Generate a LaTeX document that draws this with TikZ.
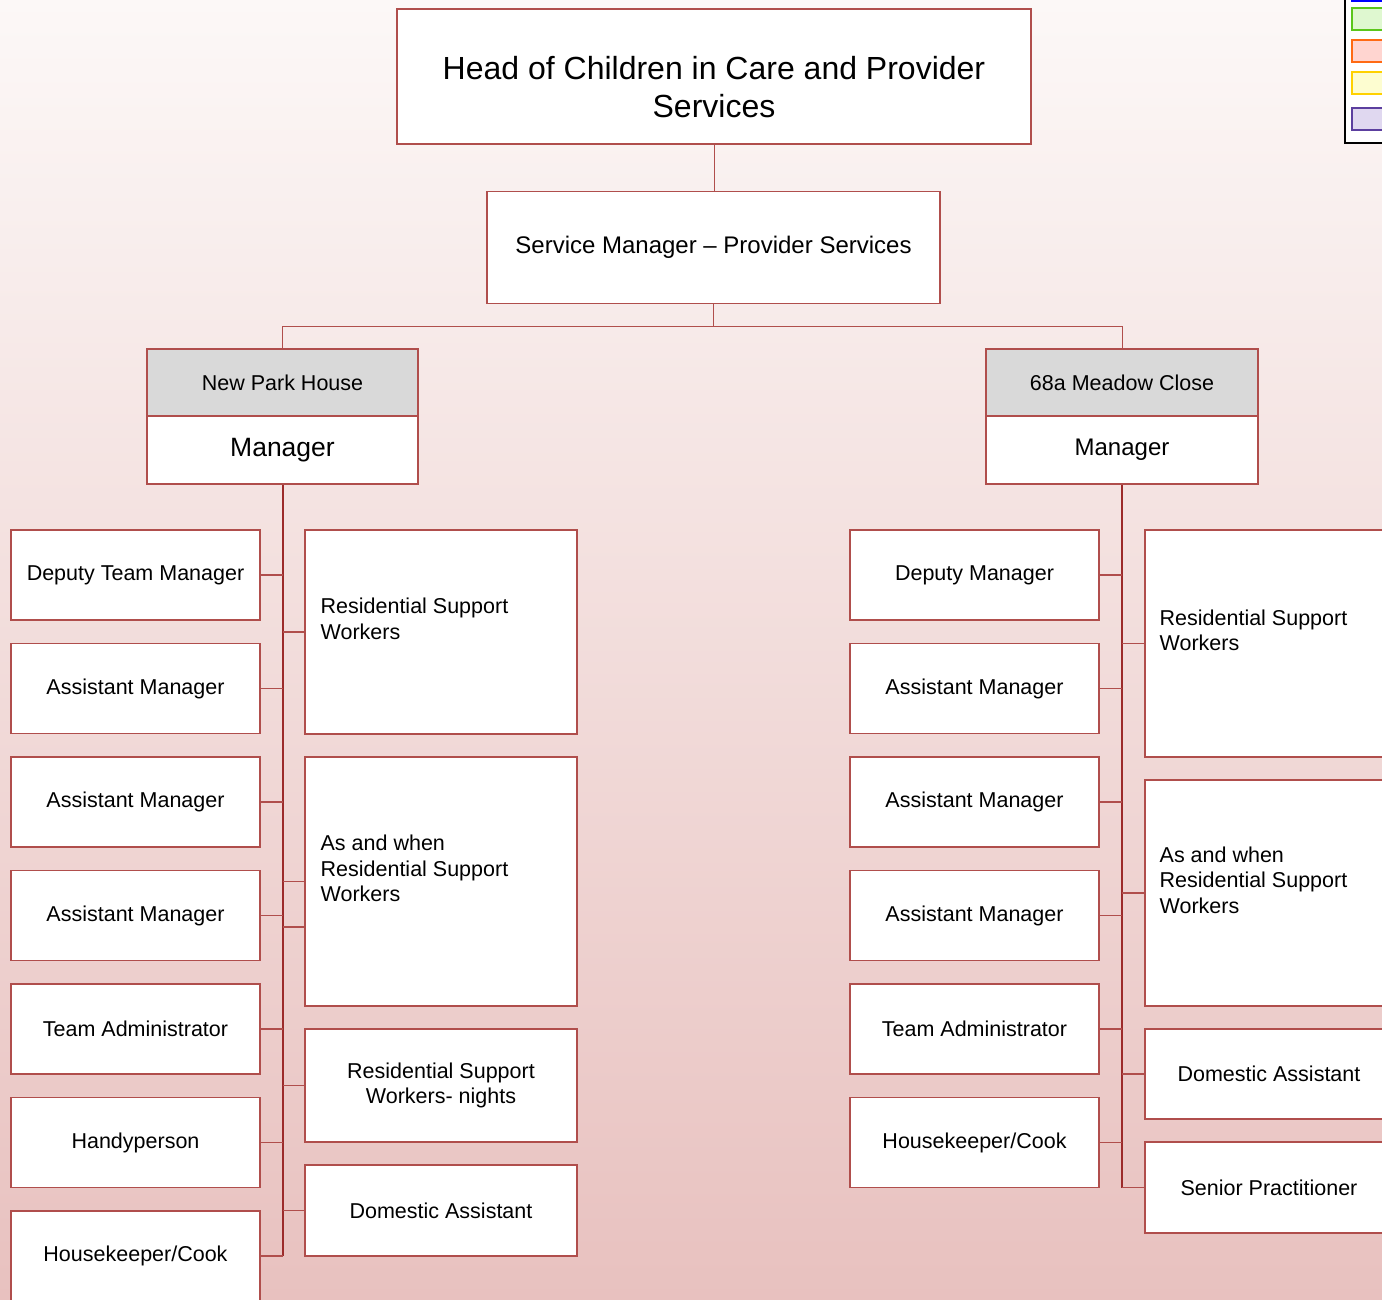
\documentclass[tikz,border=0pt]{standalone}
\usepackage{fontspec}
\setmainfont{Liberation Sans}
\definecolor{edge}{HTML}{B04E4C}
\definecolor{trunk}{HTML}{9C2B2B}
\definecolor{bgtop}{HTML}{FCF8F7}
\definecolor{bgbot}{HTML}{E8C1BF}
\definecolor{hdrgray}{HTML}{D9D9D9}
\definecolor{keygreen}{HTML}{5BC61B}
\definecolor{keygreenf}{HTML}{DFF8D0}
\definecolor{keyorange}{HTML}{FF6A13}
\definecolor{keyorangef}{HTML}{FFD5D0}
\definecolor{keyyellow}{HTML}{FFD100}
\definecolor{keyyellowf}{HTML}{FDFDD0}
\definecolor{keypurple}{HTML}{5C3F9F}
\definecolor{keypurplef}{HTML}{E0D8F0}
\tikzset{
  box/.style={draw=edge, fill=white, line width=1.1pt, inner sep=0pt, align=center,
    font=\fontsize{21.5}{25.5}\selectfont},
  lbox/.style={box, minimum width=249pt, minimum height=90pt},
  txt/.style={inner sep=0pt, align=left, font=\fontsize{21.5}{25.5}\selectfont},
  link/.style={draw=edge, line width=1.2pt},
  trunkline/.style={draw=trunk, line width=2pt},
  keybox/.style={line width=2pt},
}
\begin{document}
\begin{tikzpicture}[x=1pt,y=-1pt]
\useasboundingbox (0,0) rectangle (1382,1300);
\clip (0,0) rectangle (1382,1300);
\shade[top color=bgtop, bottom color=bgbot] (0,0) rectangle (1382,1300);
% top of the chart
\node[box, minimum width=634pt, minimum height=135pt] (head) at (714,76.5) {};
\node[txt, align=center, font=\fontsize{32}{38}\selectfont] at ([yshift=-11pt]head.center) {Head of Children in Care and Provider\\Services};
\node[box, minimum width=453pt, minimum height=112pt, font=\fontsize{24}{28}\selectfont] (svc) at (713.5,247.5) {Service Manager – Provider Services};
\coordinate (bus) at (713.5,326);
% New Park House
\node[box, fill=hdrgray, minimum width=271pt, minimum height=67pt] (npk) at (282.5,382.5) {New Park House};
\node[box, minimum width=271pt, minimum height=68pt, font=\fontsize{26.5}{30}\selectfont] (npkm) at (282.5,450) {Manager};
\node[lbox] (ldep) at (135.5,575) {Deputy Team Manager};
\node[lbox] (las1) at (135.5,688.5) {Assistant Manager};
\node[lbox] (las2) at (135.5,802) {Assistant Manager};
\node[lbox] (las3) at (135.5,915.5) {Assistant Manager};
\node[lbox] (ladm) at (135.5,1029) {Team Administrator};
\node[lbox] (lhdy) at (135.5,1142.5) {Handyperson};
\node[lbox] (lhk) at (135.5,1256) {Housekeeper/Cook};
\node[box, minimum width=272pt, minimum height=204pt] (lrsw) at (441,632) {};
\node[txt, anchor=west] at ([xshift=16pt,yshift=13pt]lrsw.west) {Residential Support\\Workers};
\node[box, minimum width=272pt, minimum height=249pt] (lasw) at (441,881.5) {};
\node[txt, anchor=west] at ([xshift=16pt,yshift=13pt]lasw.west) {As and when\\Residential Support\\Workers};
\node[box, minimum width=272pt, minimum height=113pt] (lrsn) at (441,1085.5) {Residential Support\\Workers- nights};
\node[box, minimum width=272pt, minimum height=91pt] (ldom) at (441,1210.5) {Domestic Assistant};
\coordinate (laswb) at (305,927);
% 68a Meadow Close
\node[box, fill=hdrgray, minimum width=272pt, minimum height=67pt] (mdw) at (1122,382.5) {68a Meadow Close};
\node[box, minimum width=272pt, minimum height=68pt, font=\fontsize{24}{28}\selectfont] (mdwm) at (1122,450) {Manager};
\node[lbox] (rdep) at (974.5,575) {Deputy Manager};
\node[lbox] (ras1) at (974.5,688.5) {Assistant Manager};
\node[lbox] (ras2) at (974.5,802) {Assistant Manager};
\node[lbox] (ras3) at (974.5,915.5) {Assistant Manager};
\node[lbox] (radm) at (974.5,1029) {Team Administrator};
\node[lbox] (rhk) at (974.5,1142.5) {Housekeeper/Cook};
\node[box, minimum width=248pt, minimum height=227pt] (rrsw) at (1269,643.5) {};
\node[txt, anchor=west] at ([xshift=15pt,yshift=13pt]rrsw.west) {Residential Support\\Workers};
\node[box, minimum width=248pt, minimum height=226pt] (rasw) at (1269,893) {};
\node[txt, anchor=west] at ([xshift=15pt,yshift=13pt]rasw.west) {As and when\\Residential Support\\Workers};
\node[box, minimum width=248pt, minimum height=90pt] (rdom) at (1269,1074) {Domestic Assistant};
\node[box, minimum width=248pt, minimum height=91pt] (rsen) at (1269,1187.5) {Senior Practitioner};
% connectors
\draw[link, line width=1pt] (head.south) -- (head.south |- svc.north);
\draw[link, line width=1pt] (svc.south) -- (bus);
\draw[link, line width=1pt] (npk.north) -- (npk.north |- bus) -- (mdw.north |- bus) -- (mdw.north);
\draw[trunkline] (npkm.south) -- (npkm.south |- lhk.east);
\draw[trunkline] (mdwm.south) -- (mdwm.south |- rsen.west);
\foreach \n in {ldep,las1,las2,las3,ladm,lhdy,lhk}
  \draw[link] (\n.east) -- (\n.east -| npkm.south);
\foreach \n in {lrsw,lasw,laswb,lrsn,ldom}
  \draw[link] (\n.west) -- (\n.west -| npkm.south);
\foreach \n in {rdep,ras1,ras2,ras3,radm,rhk}
  \draw[link] (\n.east) -- (\n.east -| mdwm.south);
\foreach \n in {rrsw,rasw,rdom,rsen}
  \draw[link] (\n.west) -- (\n.west -| mdwm.south);
% key, top right
\draw[black, line width=2pt, fill=white] (1345,-10) rectangle (1400,143);
\draw[blue, line width=2pt] (1351,1) -- (1400,1);
\draw[keybox, draw=keygreen, fill=keygreenf] (1352,8) rectangle (1400,30);
\draw[keybox, draw=keyorange, fill=keyorangef] (1352,40) rectangle (1400,62);
\draw[keybox, draw=keyyellow, fill=keyyellowf] (1352,72) rectangle (1400,94);
\draw[keybox, draw=keypurple, fill=keypurplef] (1352,108) rectangle (1400,130);
\end{tikzpicture}
\end{document}
